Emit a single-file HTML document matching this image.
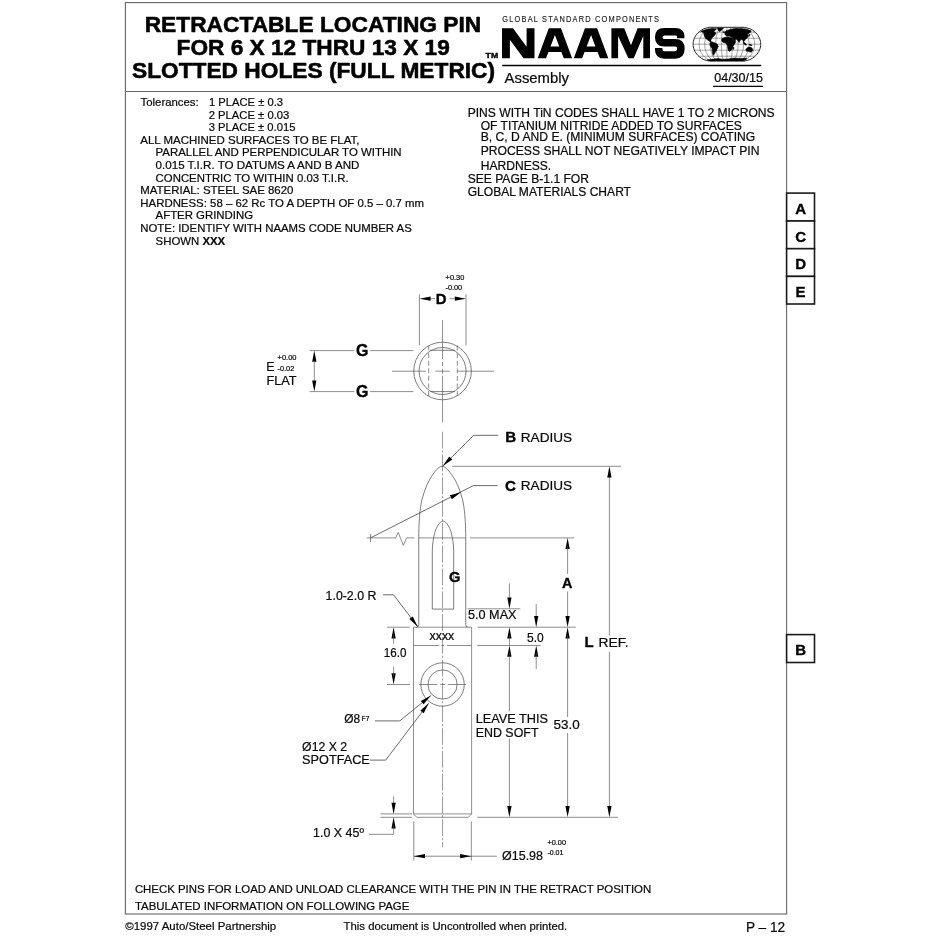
<!DOCTYPE html>
<html><head><meta charset="utf-8"><title>NAAMS Retractable Locating Pin</title>
<style>
html,body{margin:0;padding:0;background:#fff;}
body{width:940px;height:940px;overflow:hidden;}
svg{display:block;font-family:"Liberation Sans",sans-serif;will-change:transform;opacity:0.9999;}
</style></head><body>
<svg width="940" height="940" viewBox="0 0 940 940">
<rect x="0" y="0" width="940" height="940" fill="#fff"/>
<rect x="125.4" y="2.6" width="661.2" height="911.4" fill="none" stroke="#666" stroke-width="1.1"/>
<line x1="125.40" y1="91.50" x2="786.60" y2="91.50" stroke="#666" stroke-width="1.1"/>
<text x="144.70" y="32.10" font-size="22.65" font-weight="bold" textLength="336.60" lengthAdjust="spacingAndGlyphs" fill="#000" stroke="#000" stroke-width="0.55" stroke-linejoin="round">RETRACTABLE LOCATING PIN</text>
<text x="176.60" y="54.70" font-size="22.65" font-weight="bold" textLength="273.20" lengthAdjust="spacingAndGlyphs" fill="#000" stroke="#000" stroke-width="0.55" stroke-linejoin="round">FOR 6 X 12 THRU 13 X 19</text>
<text x="132.00" y="77.50" font-size="22.65" font-weight="bold" textLength="363.10" lengthAdjust="spacingAndGlyphs" fill="#000" stroke="#000" stroke-width="0.55" stroke-linejoin="round">SLOTTED HOLES (FULL METRIC)</text>
<text transform="translate(502.3,21.6) scale(0.86,1)" x="0" y="0" font-size="8.6" textLength="182.1" lengthAdjust="spacing" fill="#222" stroke="#222" stroke-width="0.15">GLOBAL STANDARD COMPONENTS</text>
<polygon points="502.00,58.30 502.00,28.30 513.00,28.30 526.60,46.80 526.60,28.30 534.50,28.30 534.50,58.30 523.50,58.30 509.90,39.80 509.90,58.30" fill="#000"/>
<path d="M537.70,58.3 L548.80,28.3 L561.00,28.3 L572.10,58.3 L563.80,58.3 L561.36,51.9 L548.44,51.9 L546.00,58.3 Z M550.51,46.5 L559.29,46.5 L554.90,35.00 Z" fill="#000" fill-rule="evenodd"/>
<path d="M573.80,58.3 L584.95,28.3 L597.15,28.3 L608.30,58.3 L600.00,58.3 L597.54,51.9 L584.56,51.9 L582.10,58.3 Z M586.63,46.5 L595.47,46.5 L591.05,35.00 Z" fill="#000" fill-rule="evenodd"/>
<polygon points="611.40,58.30 611.40,28.30 624.20,28.30 631.00,45.20 637.60,28.30 650.00,28.30 650.00,58.30 643.30,58.30 643.30,36.00 633.70,58.30 628.40,58.30 618.10,36.00 618.10,58.30" fill="#000"/>
<path d="M680.7,38.2 L680.7,36.6 Q680.7,31.7 675.2,31.7 L664.3,31.7 Q658.7,31.7 658.7,37.2 Q658.7,42.7 664.3,42.7 L675.2,42.7 Q680.9,42.7 680.9,48.8 Q680.9,54.9 675.2,54.9 L664.3,54.9 Q658.7,54.9 658.7,49.6 L658.7,48.0" fill="none" stroke="#000" stroke-width="7.5" stroke-linejoin="round"/>
<text x="485.60" y="57.60" font-size="7.0" font-weight="bold" textLength="12.60" lengthAdjust="spacingAndGlyphs" fill="#000" stroke="#000" stroke-width="0.35">TM</text>
<line x1="502.20" y1="65.60" x2="761.20" y2="65.60" stroke="#000" stroke-width="1.5"/>
<text x="504.60" y="82.80" font-size="14.5" textLength="64.40" lengthAdjust="spacingAndGlyphs" fill="#0a0a0a" stroke="#0a0a0a" stroke-width="0.22">Assembly</text>
<text x="714.20" y="81.60" font-size="12.4" textLength="48.80" lengthAdjust="spacingAndGlyphs" fill="#0a0a0a" stroke="#0a0a0a" stroke-width="0.22">04/30/15</text>
<line x1="713.20" y1="86.30" x2="762.90" y2="86.30" stroke="#000" stroke-width="1.2"/>
<g>
<clipPath id="gclip"><path d="M709.32,27.30 L703.93,28.71 L701.36,30.12 L699.44,31.53 L697.92,32.93 L696.68,34.34 L695.67,35.75 L694.85,37.16 L694.21,38.57 L693.72,39.98 L693.37,41.38 L693.17,42.79 L693.10,44.20 L693.17,45.61 L693.37,47.02 L693.72,48.42 L694.21,49.83 L694.85,51.24 L695.67,52.65 L696.68,54.06 L697.92,55.47 L699.44,56.88 L701.36,58.28 L703.93,59.69 L709.32,61.10 L744.48,61.10 L749.87,59.69 L752.44,58.28 L754.36,56.88 L755.88,55.47 L757.12,54.06 L758.13,52.65 L758.95,51.24 L759.59,49.83 L760.08,48.42 L760.43,47.02 L760.63,45.61 L760.70,44.20 L760.63,42.79 L760.43,41.38 L760.08,39.98 L759.59,38.57 L758.95,37.16 L758.13,35.75 L757.12,34.34 L755.88,32.93 L754.36,31.53 L752.44,30.12 L749.87,28.71 L744.48,27.30 Z"/></clipPath>
<path d="M709.32,27.30 L703.93,28.71 L701.36,30.12 L699.44,31.53 L697.92,32.93 L696.68,34.34 L695.67,35.75 L694.85,37.16 L694.21,38.57 L693.72,39.98 L693.37,41.38 L693.17,42.79 L693.10,44.20 L693.17,45.61 L693.37,47.02 L693.72,48.42 L694.21,49.83 L694.85,51.24 L695.67,52.65 L696.68,54.06 L697.92,55.47 L699.44,56.88 L701.36,58.28 L703.93,59.69 L709.32,61.10 L744.48,61.10 L749.87,59.69 L752.44,58.28 L754.36,56.88 L755.88,55.47 L757.12,54.06 L758.13,52.65 L758.95,51.24 L759.59,49.83 L760.08,48.42 L760.43,47.02 L760.63,45.61 L760.70,44.20 L760.63,42.79 L760.43,41.38 L760.08,39.98 L759.59,38.57 L758.95,37.16 L758.13,35.75 L757.12,34.34 L755.88,32.93 L754.36,31.53 L752.44,30.12 L749.87,28.71 L744.48,27.30 Z" stroke="#111" stroke-width="0.9" fill="#fff"/>
<path d="M712.47,27.30 L708.04,28.71 L705.93,30.12 L704.36,31.53 L703.11,32.93 L702.09,34.34 L701.26,35.75 L700.59,37.16 L700.06,38.57 L699.66,39.98 L699.37,41.38 L699.21,42.79 L699.15,44.20 L699.21,45.61 L699.37,47.02 L699.66,48.42 L700.06,49.83 L700.59,51.24 L701.26,52.65 L702.09,54.06 L703.11,55.47 L704.36,56.88 L705.93,58.28 L708.04,59.69 L712.47,61.10" stroke="#333" stroke-width="0.45" fill="none"/>
<path d="M715.36,27.30 L711.81,28.71 L710.12,30.12 L708.87,31.53 L707.87,32.93 L707.05,34.34 L706.39,35.75 L705.85,37.16 L705.43,38.57 L705.10,39.98 L704.88,41.38 L704.74,42.79 L704.70,44.20 L704.74,45.61 L704.88,47.02 L705.10,48.42 L705.43,49.83 L705.85,51.24 L706.39,52.65 L707.05,54.06 L707.87,55.47 L708.87,56.88 L710.12,58.28 L711.81,59.69 L715.36,61.10" stroke="#333" stroke-width="0.45" fill="none"/>
<path d="M718.24,27.30 L715.58,28.71 L714.32,30.12 L713.38,31.53 L712.63,32.93 L712.02,34.34 L711.52,35.75 L711.11,37.16 L710.80,38.57 L710.55,39.98 L710.38,41.38 L710.28,42.79 L710.25,44.20 L710.28,45.61 L710.38,47.02 L710.55,48.42 L710.80,49.83 L711.11,51.24 L711.52,52.65 L712.02,54.06 L712.63,55.47 L713.38,56.88 L714.32,58.28 L715.58,59.69 L718.24,61.10" stroke="#333" stroke-width="0.45" fill="none"/>
<path d="M721.13,27.30 L719.36,28.71 L718.51,30.12 L717.88,31.53 L717.38,32.93 L716.98,34.34 L716.64,35.75 L716.38,37.16 L716.16,38.57 L716.00,39.98 L715.89,41.38 L715.82,42.79 L715.80,44.20 L715.82,45.61 L715.89,47.02 L716.00,48.42 L716.16,49.83 L716.38,51.24 L716.64,52.65 L716.98,54.06 L717.38,55.47 L717.88,56.88 L718.51,58.28 L719.36,59.69 L721.13,61.10" stroke="#333" stroke-width="0.45" fill="none"/>
<path d="M724.01,27.30 L723.13,28.71 L722.71,30.12 L722.39,31.53 L722.14,32.93 L721.94,34.34 L721.77,35.75 L721.64,37.16 L721.53,38.57 L721.45,39.98 L721.39,41.38 L721.36,42.79 L721.35,44.20 L721.36,45.61 L721.39,47.02 L721.45,48.42 L721.53,49.83 L721.64,51.24 L721.77,52.65 L721.94,54.06 L722.14,55.47 L722.39,56.88 L722.71,58.28 L723.13,59.69 L724.01,61.10" stroke="#333" stroke-width="0.45" fill="none"/>
<path d="M726.90,27.30 L726.90,28.71 L726.90,30.12 L726.90,31.53 L726.90,32.93 L726.90,34.34 L726.90,35.75 L726.90,37.16 L726.90,38.57 L726.90,39.98 L726.90,41.38 L726.90,42.79 L726.90,44.20 L726.90,45.61 L726.90,47.02 L726.90,48.42 L726.90,49.83 L726.90,51.24 L726.90,52.65 L726.90,54.06 L726.90,55.47 L726.90,56.88 L726.90,58.28 L726.90,59.69 L726.90,61.10" stroke="#333" stroke-width="0.45" fill="none"/>
<path d="M729.79,27.30 L730.67,28.71 L731.09,30.12 L731.41,31.53 L731.66,32.93 L731.86,34.34 L732.03,35.75 L732.16,37.16 L732.27,38.57 L732.35,39.98 L732.41,41.38 L732.44,42.79 L732.45,44.20 L732.44,45.61 L732.41,47.02 L732.35,48.42 L732.27,49.83 L732.16,51.24 L732.03,52.65 L731.86,54.06 L731.66,55.47 L731.41,56.88 L731.09,58.28 L730.67,59.69 L729.79,61.10" stroke="#333" stroke-width="0.45" fill="none"/>
<path d="M732.67,27.30 L734.44,28.71 L735.29,30.12 L735.92,31.53 L736.42,32.93 L736.82,34.34 L737.16,35.75 L737.42,37.16 L737.64,38.57 L737.80,39.98 L737.91,41.38 L737.98,42.79 L738.00,44.20 L737.98,45.61 L737.91,47.02 L737.80,48.42 L737.64,49.83 L737.42,51.24 L737.16,52.65 L736.82,54.06 L736.42,55.47 L735.92,56.88 L735.29,58.28 L734.44,59.69 L732.67,61.10" stroke="#333" stroke-width="0.45" fill="none"/>
<path d="M735.56,27.30 L738.22,28.71 L739.48,30.12 L740.42,31.53 L741.17,32.93 L741.78,34.34 L742.28,35.75 L742.69,37.16 L743.00,38.57 L743.25,39.98 L743.42,41.38 L743.52,42.79 L743.55,44.20 L743.52,45.61 L743.42,47.02 L743.25,48.42 L743.00,49.83 L742.69,51.24 L742.28,52.65 L741.78,54.06 L741.17,55.47 L740.42,56.88 L739.48,58.28 L738.22,59.69 L735.56,61.10" stroke="#333" stroke-width="0.45" fill="none"/>
<path d="M738.44,27.30 L741.99,28.71 L743.68,30.12 L744.93,31.53 L745.93,32.93 L746.75,34.34 L747.41,35.75 L747.95,37.16 L748.37,38.57 L748.70,39.98 L748.92,41.38 L749.06,42.79 L749.10,44.20 L749.06,45.61 L748.92,47.02 L748.70,48.42 L748.37,49.83 L747.95,51.24 L747.41,52.65 L746.75,54.06 L745.93,55.47 L744.93,56.88 L743.68,58.28 L741.99,59.69 L738.44,61.10" stroke="#333" stroke-width="0.45" fill="none"/>
<path d="M741.33,27.30 L745.76,28.71 L747.87,30.12 L749.44,31.53 L750.69,32.93 L751.71,34.34 L752.54,35.75 L753.21,37.16 L753.74,38.57 L754.14,39.98 L754.43,41.38 L754.59,42.79 L754.65,44.20 L754.59,45.61 L754.43,47.02 L754.14,48.42 L753.74,49.83 L753.21,51.24 L752.54,52.65 L751.71,54.06 L750.69,55.47 L749.44,56.88 L747.87,58.28 L745.76,59.69 L741.33,61.10" stroke="#333" stroke-width="0.45" fill="none"/>
<line x1="698.67" y1="32.20" x2="755.13" y2="32.20" stroke="#333" stroke-width="0.45"/>
<line x1="694.36" y1="38.20" x2="759.44" y2="38.20" stroke="#333" stroke-width="0.45"/>
<line x1="693.10" y1="44.20" x2="760.70" y2="44.20" stroke="#333" stroke-width="0.45"/>
<line x1="694.36" y1="50.20" x2="759.44" y2="50.20" stroke="#333" stroke-width="0.45"/>
<line x1="698.67" y1="56.20" x2="755.13" y2="56.20" stroke="#333" stroke-width="0.45"/>
<g clip-path="url(#gclip)">
<polygon points="700.77,31.19 705.02,29.83 709.28,28.98 712.68,28.38 716.51,28.81 715.06,30.51 713.53,31.53 716.09,32.89 715.06,34.77 713.53,36.47 712.00,37.83 711.15,39.45 710.81,40.89 711.66,42.26 710.30,41.74 709.11,41.06 707.74,40.04 706.04,38.68 704.68,36.98 704.00,34.77 703.66,32.64" fill="#000" stroke="#000" stroke-width="0.55" stroke-linejoin="round"/>
<polygon points="717.36,27.96 723.32,27.96 721.62,30.34 719.32,31.53 717.96,29.83" fill="#000" stroke="#000" stroke-width="0.55" stroke-linejoin="round"/>
<polygon points="710.30,42.60 712.26,41.91 715.06,42.94 717.36,44.30 718.30,46.51 716.94,49.40 715.40,51.96 714.21,54.17 713.53,55.36 712.68,54.17 712.34,50.94 712.00,48.55 710.30,46.00 709.79,43.96" fill="#000" stroke="#000" stroke-width="0.55" stroke-linejoin="round"/>
<polygon points="721.87,38.85 724.17,37.49 728.00,36.98 731.40,37.83 733.53,40.04 735.83,41.74 734.38,44.30 732.94,46.68 731.91,49.40 729.87,51.45 728.34,50.43 727.66,47.53 727.32,44.98 725.45,42.94 722.72,42.26 721.53,40.55" fill="#000" stroke="#000" stroke-width="0.55" stroke-linejoin="round"/>
<polygon points="724.77,32.89 725.96,30.85 728.00,30.17 730.98,29.15 735.66,28.47 742.47,28.64 747.57,29.49 751.15,30.85 750.81,32.04 748.94,33.06 747.91,34.60 748.60,36.30 747.06,37.83 745.53,39.36 744.34,41.06 743.32,41.91 742.64,39.70 740.94,39.53 739.91,40.89 739.06,42.60 737.70,40.21 735.66,38.85 734.38,39.53 732.43,37.83 729.70,36.30 726.47,35.96 725.11,34.77" fill="#000" stroke="#000" stroke-width="0.55" stroke-linejoin="round"/>
<polygon points="732.43,37.83 735.66,38.85 735.32,40.89 733.79,40.21" fill="#000" stroke="#000" stroke-width="0.55" stroke-linejoin="round"/>
<polygon points="743.15,42.43 744.85,42.77 746.72,44.81 745.53,45.15 743.83,43.79" fill="#000" stroke="#000" stroke-width="0.55" stroke-linejoin="round"/>
<polygon points="748.94,44.30 751.66,44.81 752.00,45.66 749.62,45.15" fill="#000" stroke="#000" stroke-width="0.55" stroke-linejoin="round"/>
<polygon points="749.45,33.91 750.13,34.77 749.45,36.13 748.94,35.45" fill="#000" stroke="#000" stroke-width="0.55" stroke-linejoin="round"/>
<polygon points="745.70,49.40 747.91,47.36 750.13,47.02 752.00,48.04 752.85,49.91 751.32,52.30 749.45,51.79 747.91,51.11 746.55,51.45" fill="#000" stroke="#000" stroke-width="0.55" stroke-linejoin="round"/>
<polygon points="732.94,47.36 733.96,47.53 733.62,49.40 732.77,49.06" fill="#000" stroke="#000" stroke-width="0.55" stroke-linejoin="round"/>
<polygon points="707.23,59.79 713.53,59.11 717.96,58.43 722.04,59.28 728.00,58.94 733.96,58.09 740.77,58.43 746.89,58.09 745.53,59.96 742.47,61.15 710.13,61.32" fill="#000" stroke="#000" stroke-width="0.55" stroke-linejoin="round"/>
<polygon points="723.57,31.53 724.43,31.53 724.43,32.89 723.57,32.89" fill="#000" stroke="#000" stroke-width="0.55" stroke-linejoin="round"/>
</g>
</g>
<text x="140.50" y="106.00" font-size="11.4" textLength="58.20" lengthAdjust="spacingAndGlyphs" fill="#0a0a0a" stroke="#0a0a0a" stroke-width="0.22">Tolerances:</text>
<text x="209.00" y="106.00" font-size="11.4" textLength="74.00" lengthAdjust="spacingAndGlyphs" fill="#0a0a0a" stroke="#0a0a0a" stroke-width="0.22">1 PLACE ± 0.3</text>
<text x="208.70" y="118.60" font-size="11.4" textLength="80.60" lengthAdjust="spacingAndGlyphs" fill="#0a0a0a" stroke="#0a0a0a" stroke-width="0.22">2 PLACE ± 0.03</text>
<text x="208.70" y="131.20" font-size="11.4" textLength="86.70" lengthAdjust="spacingAndGlyphs" fill="#0a0a0a" stroke="#0a0a0a" stroke-width="0.22">3 PLACE ± 0.015</text>
<text x="140.30" y="143.80" font-size="11.4" textLength="219.20" lengthAdjust="spacingAndGlyphs" fill="#0a0a0a" stroke="#0a0a0a" stroke-width="0.22">ALL MACHINED SURFACES TO BE FLAT,</text>
<text x="155.60" y="156.40" font-size="11.4" textLength="246.00" lengthAdjust="spacingAndGlyphs" fill="#0a0a0a" stroke="#0a0a0a" stroke-width="0.22">PARALLEL AND PERPENDICULAR TO WITHIN</text>
<text x="155.60" y="169.00" font-size="11.4" textLength="203.90" lengthAdjust="spacingAndGlyphs" fill="#0a0a0a" stroke="#0a0a0a" stroke-width="0.22">0.015 T.I.R. TO DATUMS A AND B AND</text>
<text x="155.60" y="181.60" font-size="11.4" textLength="193.00" lengthAdjust="spacingAndGlyphs" fill="#0a0a0a" stroke="#0a0a0a" stroke-width="0.22">CONCENTRIC TO WITHIN 0.03 T.I.R.</text>
<text x="140.30" y="194.20" font-size="11.4" textLength="153.10" lengthAdjust="spacingAndGlyphs" fill="#0a0a0a" stroke="#0a0a0a" stroke-width="0.22">MATERIAL: STEEL SAE 8620</text>
<text x="140.30" y="206.80" font-size="11.4" textLength="283.70" lengthAdjust="spacingAndGlyphs" fill="#0a0a0a" stroke="#0a0a0a" stroke-width="0.22">HARDNESS: 58 – 62 Rc TO A DEPTH OF 0.5 – 0.7 mm</text>
<text x="155.60" y="219.40" font-size="11.4" fill="#0a0a0a" stroke="#0a0a0a" stroke-width="0.22">AFTER GRINDING</text>
<text x="140.30" y="232.00" font-size="11.4" textLength="271.50" lengthAdjust="spacingAndGlyphs" fill="#0a0a0a" stroke="#0a0a0a" stroke-width="0.22">NOTE: IDENTIFY WITH NAAMS CODE NUMBER AS</text>
<text x="155.6" y="244.60" font-size="11.4" fill="#0a0a0a" stroke="#0a0a0a" stroke-width="0.22">SHOWN <tspan font-weight="bold">XXX</tspan></text>
<text x="467.70" y="116.90" font-size="12.08" textLength="306.90" lengthAdjust="spacingAndGlyphs" fill="#0a0a0a" stroke="#0a0a0a" stroke-width="0.22">PINS WITH TiN CODES SHALL HAVE 1 TO 2 MICRONS</text>
<text x="480.70" y="129.60" font-size="12.08" textLength="261.10" lengthAdjust="spacingAndGlyphs" fill="#0a0a0a" stroke="#0a0a0a" stroke-width="0.22">OF TITANIUM NITRIDE ADDED TO SURFACES</text>
<text x="480.70" y="141.40" font-size="12.08" textLength="274.50" lengthAdjust="spacingAndGlyphs" fill="#0a0a0a" stroke="#0a0a0a" stroke-width="0.22">B, C, D AND E. (MINIMUM SURFACES) COATING</text>
<text x="480.70" y="155.20" font-size="12.08" textLength="278.80" lengthAdjust="spacingAndGlyphs" fill="#0a0a0a" stroke="#0a0a0a" stroke-width="0.22">PROCESS SHALL NOT NEGATIVELY IMPACT PIN</text>
<text x="480.70" y="169.80" font-size="12.08" fill="#0a0a0a" stroke="#0a0a0a" stroke-width="0.22">HARDNESS.</text>
<text x="467.70" y="183.00" font-size="12.08" fill="#0a0a0a" stroke="#0a0a0a" stroke-width="0.22">SEE PAGE B-1.1 FOR</text>
<text x="467.70" y="196.30" font-size="12.08" textLength="163.30" lengthAdjust="spacingAndGlyphs" fill="#0a0a0a" stroke="#0a0a0a" stroke-width="0.22">GLOBAL MATERIALS CHART</text>
<text x="134.90" y="893.40" font-size="11.4" textLength="516.30" lengthAdjust="spacingAndGlyphs" fill="#0a0a0a" stroke="#0a0a0a" stroke-width="0.22">CHECK PINS FOR LOAD AND UNLOAD CLEARANCE WITH THE PIN IN THE RETRACT POSITION</text>
<text x="134.90" y="909.90" font-size="11.4" textLength="274.50" lengthAdjust="spacingAndGlyphs" fill="#0a0a0a" stroke="#0a0a0a" stroke-width="0.22">TABULATED INFORMATION ON FOLLOWING PAGE</text>
<text x="125.30" y="929.50" font-size="11.4" textLength="150.90" lengthAdjust="spacingAndGlyphs" fill="#0a0a0a" stroke="#0a0a0a" stroke-width="0.22">©1997 Auto/Steel Partnership</text>
<text x="343.60" y="929.50" font-size="11.4" textLength="223.60" lengthAdjust="spacingAndGlyphs" fill="#0a0a0a" stroke="#0a0a0a" stroke-width="0.22">This document is Uncontrolled when printed.</text>
<text x="745.90" y="932.00" font-size="14" textLength="39.30" lengthAdjust="spacingAndGlyphs" fill="#0a0a0a" stroke="#0a0a0a" stroke-width="0.22">P – 12</text>
<rect x="786.6" y="193.1" width="27.899999999999977" height="27.900000000000006" fill="#fff" stroke="#1a1a1a" stroke-width="1.6"/>
<text x="800.55" y="213.95" font-size="15.0" font-weight="bold" text-anchor="middle" fill="#000" stroke="#000" stroke-width="0.35">A</text>
<rect x="786.6" y="221.0" width="27.899999999999977" height="27.69999999999999" fill="#fff" stroke="#1a1a1a" stroke-width="1.6"/>
<text x="800.55" y="241.75" font-size="15.0" font-weight="bold" text-anchor="middle" fill="#000" stroke="#000" stroke-width="0.35">C</text>
<rect x="786.6" y="248.7" width="27.899999999999977" height="27.69999999999999" fill="#fff" stroke="#1a1a1a" stroke-width="1.6"/>
<text x="800.55" y="269.45" font-size="15.0" font-weight="bold" text-anchor="middle" fill="#000" stroke="#000" stroke-width="0.35">D</text>
<rect x="786.6" y="276.4" width="27.899999999999977" height="27.600000000000023" fill="#fff" stroke="#1a1a1a" stroke-width="1.6"/>
<text x="800.55" y="297.10" font-size="15.0" font-weight="bold" text-anchor="middle" fill="#000" stroke="#000" stroke-width="0.35">E</text>
<rect x="786.6" y="634.6" width="27.899999999999977" height="27.899999999999977" fill="#fff" stroke="#1a1a1a" stroke-width="1.6"/>
<text x="800.55" y="655.45" font-size="15.0" font-weight="bold" text-anchor="middle" fill="#000" stroke="#000" stroke-width="0.35">B</text>
<circle cx="442.55" cy="371.0" r="28.8" fill="none" stroke="#4a4a4a" stroke-width="0.72"/>
<circle cx="442.55" cy="371.0" r="23.5" fill="none" stroke="#4a4a4a" stroke-width="0.72"/>
<line x1="430.30" y1="350.30" x2="454.80" y2="350.30" stroke="#4a4a4a" stroke-width="0.72"/>
<line x1="430.30" y1="391.60" x2="454.80" y2="391.60" stroke="#4a4a4a" stroke-width="0.72"/>
<line x1="428.70" y1="345.50" x2="428.70" y2="396.80" stroke="#505050" stroke-width="0.65" stroke-dasharray="5 2.6"/>
<line x1="457.30" y1="345.50" x2="457.30" y2="396.80" stroke="#505050" stroke-width="0.65" stroke-dasharray="5 2.6"/>
<line x1="419.40" y1="294.30" x2="419.40" y2="345.40" stroke="#505050" stroke-width="0.65"/>
<line x1="466.00" y1="294.30" x2="466.00" y2="345.40" stroke="#505050" stroke-width="0.65"/>
<polygon points="419.40,298.70 430.60,296.55 430.60,300.85" fill="#000"/>
<polygon points="466.00,298.70 454.80,300.85 454.80,296.55" fill="#000"/>
<line x1="430.50" y1="298.70" x2="435.00" y2="298.70" stroke="#505050" stroke-width="0.65"/>
<line x1="449.50" y1="298.70" x2="455.00" y2="298.70" stroke="#505050" stroke-width="0.65"/>
<text x="435.80" y="304.00" font-size="14.9" font-weight="bold" fill="#000" stroke="#000" stroke-width="0.35">D</text>
<text x="445.60" y="279.90" font-size="7.35" textLength="18.70" lengthAdjust="spacingAndGlyphs" fill="#0a0a0a" stroke="#0a0a0a" stroke-width="0.22">+0.30</text>
<text x="445.50" y="290.30" font-size="7.35" textLength="16.70" lengthAdjust="spacingAndGlyphs" fill="#0a0a0a" stroke="#0a0a0a" stroke-width="0.22">-0.00</text>
<line x1="442.55" y1="320.10" x2="442.55" y2="359.00" stroke="#505050" stroke-width="0.65"/>
<line x1="442.55" y1="362.00" x2="442.55" y2="366.20" stroke="#505050" stroke-width="0.65"/>
<line x1="442.55" y1="368.90" x2="442.55" y2="373.70" stroke="#505050" stroke-width="0.65"/>
<line x1="442.55" y1="375.80" x2="442.55" y2="422.20" stroke="#505050" stroke-width="0.65"/>
<line x1="392.00" y1="371.20" x2="425.90" y2="371.20" stroke="#505050" stroke-width="0.65"/>
<line x1="435.40" y1="371.20" x2="449.80" y2="371.20" stroke="#505050" stroke-width="0.65"/>
<line x1="457.40" y1="371.20" x2="494.00" y2="371.20" stroke="#505050" stroke-width="0.65"/>
<line x1="309.60" y1="350.60" x2="354.30" y2="350.60" stroke="#505050" stroke-width="0.65"/>
<line x1="369.90" y1="350.60" x2="413.40" y2="350.60" stroke="#505050" stroke-width="0.65"/>
<line x1="309.60" y1="391.60" x2="354.30" y2="391.60" stroke="#505050" stroke-width="0.65"/>
<line x1="369.90" y1="391.60" x2="413.40" y2="391.60" stroke="#505050" stroke-width="0.65"/>
<text x="355.90" y="356.00" font-size="16.0" font-weight="bold" fill="#000" stroke="#000" stroke-width="0.35">G</text>
<text x="355.90" y="397.00" font-size="16.0" font-weight="bold" fill="#000" stroke="#000" stroke-width="0.35">G</text>
<polygon points="314.30,350.60 316.45,361.80 312.15,361.80" fill="#000"/>
<polygon points="314.30,391.60 312.15,380.40 316.45,380.40" fill="#000"/>
<line x1="314.30" y1="361.00" x2="314.30" y2="381.00" stroke="#505050" stroke-width="0.65"/>
<text x="266.20" y="370.80" font-size="12.4" fill="#0a0a0a" stroke="#0a0a0a" stroke-width="0.22">E</text>
<text x="277.60" y="360.30" font-size="7.35" textLength="18.90" lengthAdjust="spacingAndGlyphs" fill="#0a0a0a" stroke="#0a0a0a" stroke-width="0.22">+0.00</text>
<text x="277.60" y="371.20" font-size="7.35" textLength="16.60" lengthAdjust="spacingAndGlyphs" fill="#0a0a0a" stroke="#0a0a0a" stroke-width="0.22">-0.02</text>
<text x="266.60" y="384.70" font-size="12.4" textLength="30.00" lengthAdjust="spacingAndGlyphs" fill="#0a0a0a" stroke="#0a0a0a" stroke-width="0.22">FLAT</text>
<path d="M418.75,624.60 L418.75,537.80 C418.77,536.28 418.82,531.42 418.90,528.70 C418.97,525.98 419.06,523.92 419.20,521.50 C419.34,519.08 419.51,516.68 419.75,514.20 C419.99,511.72 420.28,509.00 420.65,506.60 C421.02,504.20 421.43,501.98 421.95,499.80 C422.47,497.62 423.08,495.58 423.75,493.50 C424.42,491.42 425.13,489.32 425.95,487.30 C426.77,485.28 427.78,483.17 428.69,481.40 C429.60,479.63 430.49,478.15 431.40,476.70 C432.31,475.25 433.24,473.90 434.15,472.70 C435.06,471.50 435.95,470.42 436.85,469.50 C437.75,468.58 438.65,467.75 439.55,467.20 C440.45,466.65 441.35,466.20 442.25,466.20 C443.15,466.20 444.05,466.65 444.95,467.20 C445.85,467.75 446.75,468.58 447.65,469.50 C448.55,470.42 449.44,471.50 450.35,472.70 C451.26,473.90 452.19,475.25 453.10,476.70 C454.01,478.15 454.90,479.63 455.81,481.40 C456.72,483.17 457.73,485.28 458.55,487.30 C459.37,489.32 460.08,491.42 460.75,493.50 C461.42,495.58 462.03,497.62 462.55,499.80 C463.07,501.98 463.48,504.20 463.85,506.60 C464.22,509.00 464.51,511.72 464.75,514.20 C464.99,516.68 465.16,519.08 465.30,521.50 C465.44,523.92 465.53,525.98 465.60,528.70 C465.68,531.42 465.73,536.28 465.75,537.80 L465.75,624.60" stroke="#4a4a4a" stroke-width="0.72" fill="none"/>
<path d="M418.75,624.6 Q418.75,627.2 416.35,627.2" stroke="#4a4a4a" stroke-width="0.72" fill="none"/>
<path d="M465.75,624.6 Q465.75,627.2 468.15,627.2" stroke="#4a4a4a" stroke-width="0.72" fill="none"/>
<path d="M413.5,627.2 L471.6,627.2 L471.6,813.9 L468.40000000000003,817.3 L416.7,817.3 L413.5,813.9 Z" stroke="#565656" stroke-width="0.66" fill="none"/>
<line x1="413.50" y1="813.90" x2="471.60" y2="813.90" stroke="#565656" stroke-width="0.66"/>
<path d="M432.30,609.1 L432.30,552.00 C432.35,550.83 432.38,547.37 432.61,545.00 C432.83,542.63 433.20,540.07 433.62,537.80 C434.05,535.53 434.51,533.37 435.15,531.40 C435.80,529.43 436.65,527.50 437.50,526.00 C438.35,524.50 439.33,523.23 440.25,522.40 C441.17,521.57 442.08,521.00 443.00,521.00 C443.92,521.00 444.83,521.57 445.75,522.40 C446.67,523.23 447.65,524.50 448.50,526.00 C449.35,527.50 450.20,529.43 450.85,531.40 C451.49,533.37 451.95,535.53 452.38,537.80 C452.80,540.07 453.17,542.63 453.39,545.00 C453.62,547.37 453.65,550.83 453.70,552.00 L453.70,609.1 Z" stroke="#4a4a4a" stroke-width="0.72" fill="none"/>
<text x="448.90" y="582.40" font-size="14.7" font-weight="bold" fill="#000" stroke="#000" stroke-width="0.35">G</text>
<text x="429.60" y="639.90" font-size="12.2" textLength="24.60" lengthAdjust="spacingAndGlyphs" fill="#0a0a0a" stroke="#0a0a0a" stroke-width="0.22">xxxx</text>
<line x1="413.50" y1="645.50" x2="439.30" y2="645.50" stroke="#505050" stroke-width="0.65"/>
<line x1="441.20" y1="645.50" x2="444.00" y2="645.50" stroke="#505050" stroke-width="0.65"/>
<line x1="446.90" y1="645.50" x2="471.60" y2="645.50" stroke="#505050" stroke-width="0.65"/>
<circle cx="442.55" cy="684.5" r="21.7" fill="none" stroke="#4a4a4a" stroke-width="0.72"/>
<circle cx="442.55" cy="684.5" r="14.6" fill="none" stroke="#4a4a4a" stroke-width="0.72"/>
<line x1="419.10" y1="684.50" x2="437.30" y2="684.50" stroke="#505050" stroke-width="0.65"/>
<line x1="440.20" y1="684.50" x2="445.00" y2="684.50" stroke="#505050" stroke-width="0.65"/>
<line x1="447.90" y1="684.50" x2="466.00" y2="684.50" stroke="#505050" stroke-width="0.65"/>
<line x1="442.55" y1="431.80" x2="442.55" y2="847.20" stroke="#5c5c5c" stroke-width="0.64" stroke-dasharray="16.6 2.1 2.0 2.1"/>
<line x1="366.80" y1="537.90" x2="395.70" y2="537.90" stroke="#505050" stroke-width="0.65"/>
<path d="M395.7,537.9 L398.2,532.4 L403.4,545.4 L406.6,537.9 L414.5,537.9" stroke="#505050" stroke-width="0.65" fill="none"/>
<line x1="418.75" y1="537.90" x2="465.75" y2="537.90" stroke="#505050" stroke-width="0.65"/>
<line x1="470.00" y1="537.90" x2="574.30" y2="537.90" stroke="#505050" stroke-width="0.65"/>
<line x1="370.50" y1="533.90" x2="370.50" y2="541.90" stroke="#505050" stroke-width="0.65"/>
<line x1="370.50" y1="537.90" x2="473.30" y2="485.60" stroke="#3a3a3a" stroke-width="0.75"/>
<line x1="473.30" y1="485.60" x2="497.60" y2="485.60" stroke="#3a3a3a" stroke-width="0.75"/>
<polygon points="460.90,492.20 451.89,499.19 449.94,495.36" fill="#000"/>
<line x1="442.55" y1="466.30" x2="473.60" y2="435.30" stroke="#3a3a3a" stroke-width="0.75"/>
<line x1="473.60" y1="435.30" x2="498.20" y2="435.30" stroke="#3a3a3a" stroke-width="0.75"/>
<polygon points="442.85,466.00 449.26,456.57 452.30,459.61" fill="#000"/>
<text x="505.30" y="441.60" font-size="15.1" font-weight="bold" fill="#000" stroke="#000" stroke-width="0.35">B</text>
<text x="520.80" y="441.60" font-size="13.3" textLength="51.40" lengthAdjust="spacingAndGlyphs" fill="#0a0a0a" stroke="#0a0a0a" stroke-width="0.22">RADIUS</text>
<text x="505.10" y="490.60" font-size="15.1" font-weight="bold" fill="#000" stroke="#000" stroke-width="0.35">C</text>
<text x="520.80" y="490.40" font-size="13.3" textLength="51.40" lengthAdjust="spacingAndGlyphs" fill="#0a0a0a" stroke="#0a0a0a" stroke-width="0.22">RADIUS</text>
<line x1="452.30" y1="466.30" x2="621.00" y2="466.30" stroke="#505050" stroke-width="0.65"/>
<line x1="609.40" y1="474.30" x2="609.40" y2="635.60" stroke="#505050" stroke-width="0.65"/>
<line x1="609.40" y1="651.80" x2="609.40" y2="809.30" stroke="#505050" stroke-width="0.65"/>
<polygon points="609.40,466.30 611.55,477.50 607.25,477.50" fill="#000"/>
<polygon points="609.40,817.30 607.25,806.10 611.55,806.10" fill="#000"/>
<text x="584.50" y="647.20" font-size="14.9" font-weight="bold" fill="#000" stroke="#000" stroke-width="0.35">L</text>
<text x="598.50" y="647.20" font-size="13.2" textLength="30.00" lengthAdjust="spacingAndGlyphs" fill="#0a0a0a" stroke="#0a0a0a" stroke-width="0.22">REF.</text>
<polygon points="567.60,537.90 569.75,549.10 565.45,549.10" fill="#000"/>
<line x1="567.60" y1="545.90" x2="567.60" y2="574.00" stroke="#505050" stroke-width="0.65"/>
<line x1="567.60" y1="591.50" x2="567.60" y2="619.20" stroke="#505050" stroke-width="0.65"/>
<polygon points="567.60,627.20 565.45,616.00 569.75,616.00" fill="#000"/>
<text x="562.00" y="588.20" font-size="14.4" font-weight="bold" fill="#000" stroke="#000" stroke-width="0.35">A</text>
<polygon points="567.60,627.20 569.75,638.40 565.45,638.40" fill="#000"/>
<line x1="567.60" y1="635.20" x2="567.60" y2="717.00" stroke="#505050" stroke-width="0.65"/>
<line x1="567.60" y1="733.00" x2="567.60" y2="809.30" stroke="#505050" stroke-width="0.65"/>
<polygon points="567.60,817.30 565.45,806.10 569.75,806.10" fill="#000"/>
<text x="553.50" y="729.40" font-size="13.2" textLength="26.20" lengthAdjust="spacingAndGlyphs" fill="#0a0a0a" stroke="#0a0a0a" stroke-width="0.22">53.0</text>
<line x1="477.60" y1="627.20" x2="575.80" y2="627.20" stroke="#505050" stroke-width="0.65"/>
<line x1="477.20" y1="645.50" x2="540.40" y2="645.50" stroke="#505050" stroke-width="0.65"/>
<line x1="467.40" y1="608.80" x2="520.30" y2="608.80" stroke="#505050" stroke-width="0.65"/>
<text x="468.00" y="619.40" font-size="12.6" textLength="48.50" lengthAdjust="spacingAndGlyphs" fill="#0a0a0a" stroke="#0a0a0a" stroke-width="0.22">5.0 MAX</text>
<line x1="509.40" y1="583.40" x2="509.40" y2="600.00" stroke="#505050" stroke-width="0.65"/>
<polygon points="509.40,608.80 507.25,597.60 511.55,597.60" fill="#000"/>
<polygon points="509.40,627.20 511.55,638.40 507.25,638.40" fill="#000"/>
<line x1="509.40" y1="635.20" x2="509.40" y2="645.50" stroke="#505050" stroke-width="0.65"/>
<polygon points="509.40,645.50 511.55,656.70 507.25,656.70" fill="#000"/>
<line x1="509.40" y1="653.00" x2="509.40" y2="711.40" stroke="#505050" stroke-width="0.65"/>
<line x1="509.40" y1="738.60" x2="509.40" y2="809.30" stroke="#505050" stroke-width="0.65"/>
<polygon points="509.40,817.30 507.25,806.10 511.55,806.10" fill="#000"/>
<text x="475.70" y="723.10" font-size="12.5" textLength="72.40" lengthAdjust="spacingAndGlyphs" fill="#0a0a0a" stroke="#0a0a0a" stroke-width="0.22">LEAVE THIS</text>
<text x="475.70" y="736.90" font-size="12.5" textLength="62.80" lengthAdjust="spacingAndGlyphs" fill="#0a0a0a" stroke="#0a0a0a" stroke-width="0.22">END SOFT</text>
<line x1="536.20" y1="603.90" x2="536.20" y2="620.00" stroke="#505050" stroke-width="0.65"/>
<polygon points="536.20,627.20 534.05,616.00 538.35,616.00" fill="#000"/>
<polygon points="536.20,645.50 538.35,656.70 534.05,656.70" fill="#000"/>
<line x1="536.20" y1="653.00" x2="536.20" y2="669.00" stroke="#505050" stroke-width="0.65"/>
<text x="527.00" y="642.20" font-size="12.2" textLength="16.70" lengthAdjust="spacingAndGlyphs" fill="#0a0a0a" stroke="#0a0a0a" stroke-width="0.22">5.0</text>
<line x1="477.20" y1="817.30" x2="618.00" y2="817.30" stroke="#505050" stroke-width="0.65"/>
<line x1="387.00" y1="627.20" x2="409.80" y2="627.20" stroke="#505050" stroke-width="0.65"/>
<line x1="387.00" y1="684.50" x2="410.00" y2="684.50" stroke="#505050" stroke-width="0.65"/>
<polygon points="393.60,627.20 395.75,638.40 391.45,638.40" fill="#000"/>
<line x1="393.60" y1="635.20" x2="393.60" y2="643.80" stroke="#505050" stroke-width="0.65"/>
<polygon points="393.60,684.50 391.45,673.30 395.75,673.30" fill="#000"/>
<line x1="393.60" y1="666.60" x2="393.60" y2="676.50" stroke="#505050" stroke-width="0.65"/>
<text x="383.80" y="657.00" font-size="12.0" textLength="22.60" lengthAdjust="spacingAndGlyphs" fill="#0a0a0a" stroke="#0a0a0a" stroke-width="0.22">16.0</text>
<text x="325.60" y="599.80" font-size="12.4" textLength="50.80" lengthAdjust="spacingAndGlyphs" fill="#0a0a0a" stroke="#0a0a0a" stroke-width="0.22">1.0-2.0 R</text>
<line x1="383.00" y1="594.80" x2="393.60" y2="594.80" stroke="#3a3a3a" stroke-width="0.75"/>
<line x1="393.60" y1="594.80" x2="417.60" y2="626.40" stroke="#3a3a3a" stroke-width="0.75"/>
<polygon points="417.80,626.70 409.32,619.08 412.74,616.48" fill="#000"/>
<text x="344.20" y="722.80" font-size="12.4" textLength="15.90" lengthAdjust="spacingAndGlyphs" fill="#0a0a0a" stroke="#0a0a0a" stroke-width="0.22">Ø8</text>
<text x="361.60" y="721.20" font-size="7.3" textLength="7.80" lengthAdjust="spacingAndGlyphs" fill="#0a0a0a" stroke="#0a0a0a" stroke-width="0.22">F7</text>
<line x1="374.90" y1="720.90" x2="399.80" y2="720.90" stroke="#3a3a3a" stroke-width="0.75"/>
<line x1="399.80" y1="720.90" x2="430.80" y2="695.60" stroke="#3a3a3a" stroke-width="0.75"/>
<polygon points="430.90,695.50 423.60,704.26 420.87,700.94" fill="#000"/>
<text x="302.10" y="750.50" font-size="12.4" textLength="45.00" lengthAdjust="spacingAndGlyphs" fill="#0a0a0a" stroke="#0a0a0a" stroke-width="0.22">Ø12 X 2</text>
<text x="302.10" y="763.90" font-size="12.4" textLength="67.70" lengthAdjust="spacingAndGlyphs" fill="#0a0a0a" stroke="#0a0a0a" stroke-width="0.22">SPOTFACE</text>
<line x1="369.80" y1="760.10" x2="385.70" y2="760.10" stroke="#3a3a3a" stroke-width="0.75"/>
<line x1="385.70" y1="760.10" x2="428.60" y2="703.40" stroke="#3a3a3a" stroke-width="0.75"/>
<polygon points="428.80,703.10 423.76,713.33 420.33,710.74" fill="#000"/>
<line x1="380.40" y1="813.90" x2="412.00" y2="813.90" stroke="#505050" stroke-width="0.65"/>
<line x1="380.40" y1="817.30" x2="412.00" y2="817.30" stroke="#505050" stroke-width="0.65"/>
<line x1="393.60" y1="796.30" x2="393.60" y2="806.00" stroke="#505050" stroke-width="0.65"/>
<polygon points="393.60,813.90 391.45,802.70 395.75,802.70" fill="#000"/>
<polygon points="393.60,817.30 395.75,828.50 391.45,828.50" fill="#000"/>
<line x1="393.60" y1="825.30" x2="393.60" y2="834.30" stroke="#505050" stroke-width="0.65"/>
<line x1="369.00" y1="834.30" x2="393.60" y2="834.30" stroke="#505050" stroke-width="0.65"/>
<text x="313.00" y="836.60" font-size="12.4" textLength="51.00" lengthAdjust="spacingAndGlyphs" fill="#0a0a0a" stroke="#0a0a0a" stroke-width="0.22">1.0 X 45º</text>
<line x1="413.80" y1="821.30" x2="413.80" y2="860.60" stroke="#505050" stroke-width="0.65"/>
<line x1="471.30" y1="821.30" x2="471.30" y2="860.60" stroke="#505050" stroke-width="0.65"/>
<line x1="413.50" y1="856.20" x2="496.80" y2="856.20" stroke="#505050" stroke-width="0.65"/>
<polygon points="413.80,856.20 425.00,854.05 425.00,858.35" fill="#000"/>
<polygon points="471.30,856.20 460.10,858.35 460.10,854.05" fill="#000"/>
<text x="502.10" y="860.10" font-size="12.5" textLength="40.90" lengthAdjust="spacingAndGlyphs" fill="#0a0a0a" stroke="#0a0a0a" stroke-width="0.22">Ø15.98</text>
<text x="547.40" y="845.10" font-size="7.35" textLength="18.60" lengthAdjust="spacingAndGlyphs" fill="#0a0a0a" stroke="#0a0a0a" stroke-width="0.22">+0.00</text>
<text x="547.40" y="854.70" font-size="7.35" textLength="16.00" lengthAdjust="spacingAndGlyphs" fill="#0a0a0a" stroke="#0a0a0a" stroke-width="0.22">-0.01</text>
</svg>
</body></html>
